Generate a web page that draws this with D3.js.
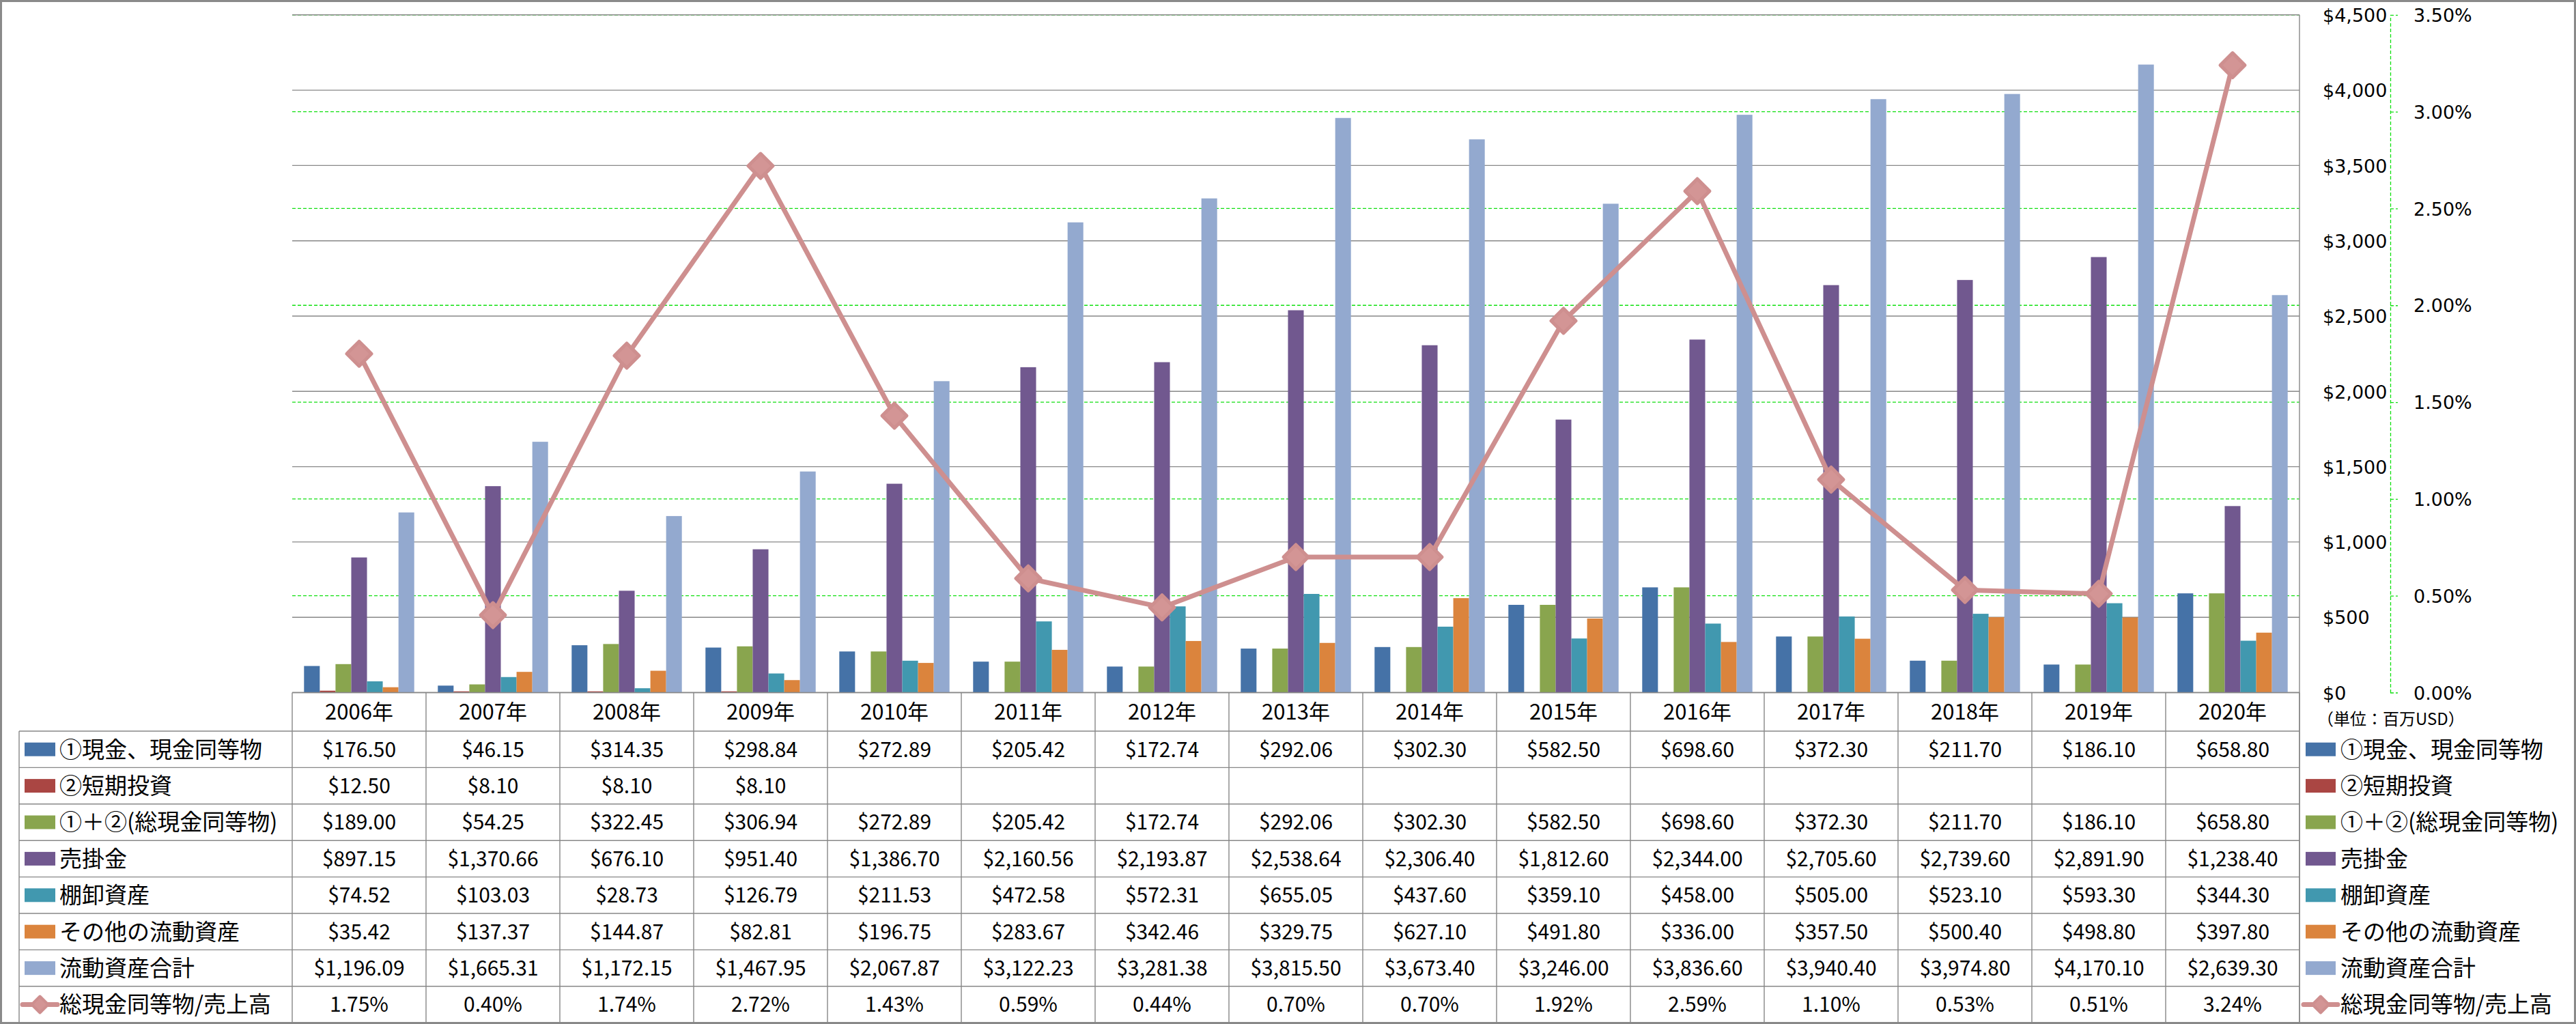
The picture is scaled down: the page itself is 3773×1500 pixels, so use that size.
<!DOCTYPE html>
<html>
<head>
<meta charset="utf-8">
<script src="https://cdn.jsdelivr.net/npm/d3@7/dist/d3.min.js"></script>
<style>
  html, body { margin: 0; padding: 0; background: #ffffff; }
  svg { display: block; }
</style>
</head>
<body>
<svg id="chart" width="3773" height="1500"></svg>
<script>
// ---------------- DATA ----------------
const years = ['2006年','2007年','2008年','2009年','2010年','2011年','2012年','2013年','2014年','2015年','2016年','2017年','2018年','2019年','2020年'];
const cash        = [176.50, 46.15, 314.35, 298.84, 272.89, 205.42, 172.74, 292.06, 302.30, 582.50, 698.60, 372.30, 211.70, 186.10, 658.80];
const shortInv    = [12.50, 8.10, 8.10, 8.10, null, null, null, null, null, null, null, null, null, null, null];
const totalCash   = [189.00, 54.25, 322.45, 306.94, 272.89, 205.42, 172.74, 292.06, 302.30, 582.50, 698.60, 372.30, 211.70, 186.10, 658.80];
const receivables = [897.15, 1370.66, 676.10, 951.40, 1386.70, 2160.56, 2193.87, 2538.64, 2306.40, 1812.60, 2344.00, 2705.60, 2739.60, 2891.90, 1238.40];
const inventory   = [74.52, 103.03, 28.73, 126.79, 211.53, 472.58, 572.31, 655.05, 437.60, 359.10, 458.00, 505.00, 523.10, 593.30, 344.30];
const otherCA     = [35.42, 137.37, 144.87, 82.81, 196.75, 283.67, 342.46, 329.75, 627.10, 491.80, 336.00, 357.50, 500.40, 498.80, 397.80];
const totalCA     = [1196.09, 1665.31, 1172.15, 1467.95, 2067.87, 3122.23, 3281.38, 3815.50, 3673.40, 3246.00, 3836.60, 3940.40, 3974.80, 4170.10, 2639.30];
const cashRatio   = [1.75, 0.40, 1.74, 2.72, 1.43, 0.59, 0.44, 0.70, 0.70, 1.92, 2.59, 1.10, 0.53, 0.51, 3.24];

const barNames = ['①現金、現金同等物', '②短期投資', '①＋②(総現金同等物)', '売掛金', '棚卸資産', 'その他の流動資産', '流動資産合計'];
const lineName = '総現金同等物/売上高';
const unitLabel = '（単位：百万USD）';
const dollarTicks = [0, 500, 1000, 1500, 2000, 2500, 3000, 3500, 4000, 4500];
const pctTicks = [0, 0.5, 1.0, 1.5, 2.0, 2.5, 3.0, 3.5];

// ---------------- STYLE ----------------
const barColors = ['#4572A7', '#AA4643', '#89A54E', '#71588F', '#4198AF', '#DB843D', '#93A9CF'];
const lineColor = '#CE8F8F';
const markerFill = '#D39595';
const gridGray = '#878787';
const gridGreen = '#11E011';
const cjk = '"Noto Sans CJK JP", "Noto Sans CJK SC", sans-serif';
const axisFont = '"DejaVu Sans", Verdana, sans-serif';

const barSeries = [cash, shortInv, totalCash, receivables, inventory, otherCA, totalCA];

// ---------------- LAYOUT ----------------
const W = 3773, H = 1500;
const plotL = 428, plotR = 3368, plotT = 21.8, plotB = 1014.5;
const headerB = 1071, rowH = 53.4;
const legL = 28;

const svg = d3.select('#chart');

const x = d3.scaleBand().domain(years).range([plotL, plotR]).paddingInner(0).paddingOuter(0);
const xs = d3.scaleBand().domain(d3.range(barSeries.length)).range([0, x.bandwidth()]).paddingInner(0).paddingOuter(0.75);
const y = d3.scaleLinear().domain([0, 4500]).range([plotB, plotT]);
const y2 = d3.scaleLinear().domain([0, 3.5]).range([plotB, plotT]);

// outer border
svg.append('rect').attr('x', 1.5).attr('y', 1.5).attr('width', W - 3).attr('height', H - 3)
  .attr('fill', '#fff').attr('stroke', '#8a8a8a').attr('stroke-width', 3);

// gridlines: green dashed (secondary), gray solid (primary)
svg.append('g').selectAll('line').data(pctTicks.filter(d => d > 0)).join('line')
  .attr('x1', plotL).attr('x2', plotR)
  .attr('y1', d => y2(d)).attr('y2', d => y2(d))
  .attr('stroke', gridGreen).attr('stroke-width', 1.3).attr('stroke-dasharray', '5,3');
svg.append('g').selectAll('line').data(dollarTicks).join('line')
  .attr('x1', plotL).attr('x2', plotR)
  .attr('y1', d => y(d)).attr('y2', d => y(d))
  .attr('stroke', gridGray).attr('stroke-width', 1.4);

// bars
const groups = svg.append('g').selectAll('g').data(years).join('g')
  .attr('transform', d => `translate(${x(d)},0)`);
groups.selectAll('rect')
  .data((yr, i) => barSeries.map((s, k) => ({k, v: s[i]})).filter(d => d.v != null))
  .join('rect')
  .attr('x', d => xs(d.k))
  .attr('width', xs.bandwidth())
  .attr('y', d => y(d.v))
  .attr('height', d => y(0) - y(d.v))
  .attr('fill', d => barColors[d.k]);

// line + markers
const lineGen = d3.line().x((d, i) => x(years[i]) + x.bandwidth() / 2).y(d => y2(d));
svg.append('path').datum(cashRatio).attr('d', lineGen)
  .attr('fill', 'none').attr('stroke', lineColor).attr('stroke-width', 7)
  .attr('stroke-linejoin', 'round').attr('stroke-linecap', 'round');
function diamond(r) { return `M0,${-r}L${r},0L0,${r}L${-r},0Z`; }
svg.append('g').selectAll('path').data(cashRatio).join('path')
  .attr('transform', (d, i) => `translate(${x(years[i]) + x.bandwidth() / 2},${y2(d)})`)
  .attr('d', diamond(18))
  .attr('fill', markerFill).attr('stroke', lineColor).attr('stroke-width', 5).attr('stroke-linejoin', 'round');

// plot right border
svg.append('line').attr('x1', plotR).attr('x2', plotR).attr('y1', plotT).attr('y2', H - 2)
  .attr('stroke', gridGray).attr('stroke-width', 1.4);

// primary axis (right, $)
const ax1 = svg.append('g').attr('transform', `translate(3402,0)`)
  .call(d3.axisRight(y).tickValues(dollarTicks).tickSize(0).tickPadding(0)
    .tickFormat(d => '$' + d3.format(',')(d)));
ax1.select('.domain').remove();
ax1.selectAll('text').attr('font-family', axisFont).attr('font-size', 27).attr('fill', '#000').attr('dy', '0.36em');

// secondary axis (%)
const ax2 = svg.append('g').attr('transform', `translate(3501,0)`)
  .call(d3.axisRight(y2).tickValues(pctTicks).tickSizeInner(11).tickSizeOuter(0).tickPadding(23)
    .tickFormat(d => d.toFixed(2) + '%'));
ax2.select('.domain').attr('stroke', gridGreen).attr('stroke-width', 1.3).attr('stroke-dasharray', '5,3');
ax2.selectAll('.tick line').attr('stroke', gridGreen).attr('stroke-width', 1.3).attr('stroke-dasharray', '5,3');
ax2.selectAll('text').attr('font-family', axisFont).attr('font-size', 27).attr('fill', '#000').attr('dy', '0.36em');

// ---------------- DATA TABLE ----------------
const tbl = svg.append('g');
const rowY = i => headerB + i * rowH;            // top of data row i
const nRows = barSeries.length + 1;
// horizontal lines
tbl.append('line').attr('x1', plotL).attr('x2', plotR).attr('y1', plotB).attr('y2', plotB)
  .attr('stroke', gridGray).attr('stroke-width', 1.4);
tbl.selectAll('line.h').data(d3.range(nRows + 1)).join('line').attr('class', 'h')
  .attr('x1', legL).attr('x2', plotR)
  .attr('y1', d => rowY(d)).attr('y2', d => rowY(d))
  .attr('stroke', gridGray).attr('stroke-width', 1.4);
// vertical lines
tbl.selectAll('line.v').data(years.map(d => x(d)).concat([plotR])).join('line').attr('class', 'v')
  .attr('x1', d => d).attr('x2', d => d).attr('y1', plotB).attr('y2', H - 2)
  .attr('stroke', gridGray).attr('stroke-width', 1.4);
tbl.append('line').attr('x1', legL).attr('x2', legL).attr('y1', headerB).attr('y2', H - 2)
  .attr('stroke', gridGray).attr('stroke-width', 1.4);

// header years
tbl.selectAll('text.yr').data(years).join('text').attr('class', 'yr')
  .attr('x', d => x(d) + x.bandwidth() / 2).attr('y', (plotB + headerB) / 2).attr('dy', '0.36em')
  .attr('text-anchor', 'middle').attr('font-family', cjk).attr('font-size', 31).attr('fill', '#000')
  .text(d => d);

// values
const fmtD = v => v == null ? '' : '$' + d3.format(',.2f')(v);
const fmtP = v => v.toFixed(2) + '%';
const allRows = barSeries.map(s => s.map(fmtD)).concat([cashRatio.map(fmtP)]);
allRows.forEach((row, r) => {
  tbl.append('g').selectAll('text').data(row).join('text')
    .attr('x', (d, i) => x(years[i]) + x.bandwidth() / 2)
    .attr('y', rowY(r) + rowH / 2).attr('dy', '0.36em')
    .attr('text-anchor', 'middle').attr('font-family', cjk).attr('font-size', 30).attr('fill', '#000')
    .text(d => d);
});

// legend entries (left inside table, right outside)
const legendNames = barNames.concat([lineName]);
function drawLegend(g, swX, swW, textX) {
  legendNames.forEach((name, r) => {
    const cy = rowY(r) + rowH / 2;
    if (r < barNames.length) {
      g.append('rect').attr('x', swX).attr('y', cy - 10).attr('width', swW).attr('height', 20)
        .attr('fill', barColors[r]);
    } else {
      g.append('line').attr('x1', swX - 3).attr('x2', swX + swW + 3).attr('y1', cy).attr('y2', cy)
        .attr('stroke', lineColor).attr('stroke-width', 7).attr('stroke-linecap', 'round');
      g.append('path').attr('transform', `translate(${swX + swW / 2},${cy})`).attr('d', diamond(12))
        .attr('fill', markerFill).attr('stroke', lineColor).attr('stroke-width', 4).attr('stroke-linejoin', 'round');
    }
    g.append('text').attr('x', textX).attr('y', cy).attr('dy', '0.36em')
      .attr('font-family', cjk).attr('font-size', 33).attr('fill', '#000').text(name);
  });
}
drawLegend(svg.append('g'), 36, 45, 87);
drawLegend(svg.append('g'), 3377, 44, 3428);

// unit label
svg.append('text').attr('x', 3394).attr('y', 1053).attr('dy', '0.36em')
  .attr('font-family', cjk).attr('font-size', 24).attr('fill', '#000').text(unitLabel);
</script>
</body>
</html>
